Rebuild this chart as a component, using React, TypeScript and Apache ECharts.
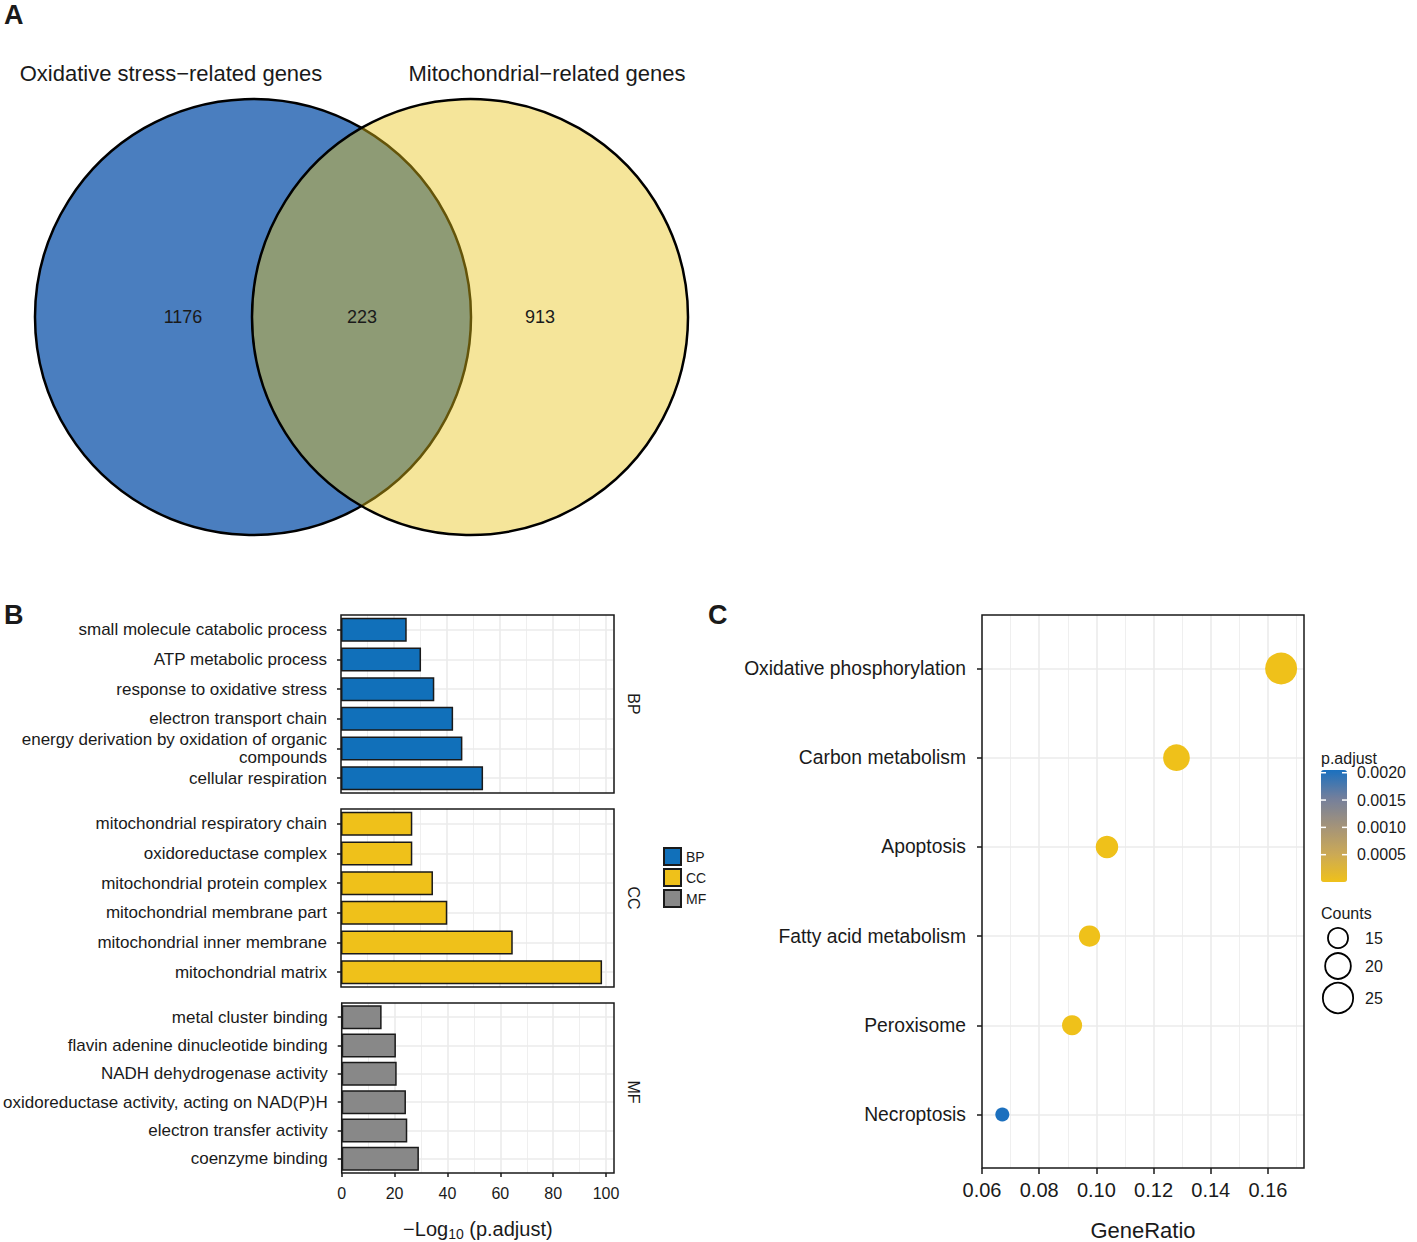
import React, { useEffect, useRef } from "react";
import * as echarts from "echarts";

// ---------- DATA ----------
const vennSetNames = ["Oxidative stress\u2212related genes", "Mitochondrial\u2212related genes"];
const vennCounts = [1176, 223, 913]; // left only, shared, right only

const ontologies = ["BP", "CC", "MF"];
const bpTerms = [
  "small molecule catabolic process",
  "ATP metabolic process",
  "response to oxidative stress",
  "electron transport chain",
  "energy derivation by oxidation of organic\ncompounds",
  "cellular respiration",
];
const bpValues = [24.8, 30.2, 35.2, 42.3, 45.8, 53.6];
const ccTerms = [
  "mitochondrial respiratory chain",
  "oxidoreductase complex",
  "mitochondrial protein complex",
  "mitochondrial membrane part",
  "mitochondrial inner membrane",
  "mitochondrial matrix",
];
const ccValues = [26.9, 26.9, 34.7, 40.1, 64.8, 98.5];
const mfTerms = [
  "metal cluster binding",
  "flavin adenine dinucleotide binding",
  "NADH dehydrogenase activity",
  "oxidoreductase activity, acting on NAD(P)H",
  "electron transfer activity",
  "coenzyme binding",
];
const mfValues = [15.1, 20.5, 20.8, 24.3, 24.8, 29.2];
const xTicksB = [0, 20, 40, 60, 80, 100];

const keggTerms = [
  "Oxidative phosphorylation",
  "Carbon metabolism",
  "Apoptosis",
  "Fatty acid metabolism",
  "Peroxisome",
  "Necroptosis",
];
const geneRatio = [0.1646, 0.128, 0.1037, 0.0976, 0.0915, 0.0671];
const keggCounts = [27, 21, 17, 16, 15, 11];
const pAdjust = [1.2e-12, 3.5e-9, 2.1e-6, 1.4e-6, 4.0e-6, 0.00204];
const xTicksC = [0.06, 0.08, 0.1, 0.12, 0.14, 0.16];
const pAdjustTicks = [0.0005, 0.001, 0.0015, 0.002];
const countTicks = [15, 20, 25];

// ---------- STYLE ----------
const FONT = "'Liberation Sans', Arial, Helvetica, sans-serif";
const INK = "#1a1a1a";
const GRID = "#EBEBEB";
const ontologyColors = ["#1170BA", "#EFC11A", "#888888"];
const pColorStops = ["#EFC11A", "#CBA956", "#A3937A", "#737F9C", "#1A70BF"];

const B_MIN = 0;
const B_MAX = 103;
const C_MIN = 0.06;
const C_MAX = 0.1726;
const P_MIN = 0;
const P_MAX = 0.00205;
const CBAR = { left: 1321, top: 770, w: 26, h: 112 };

// symbol size (diameter, px) scaled by area between the smallest and largest count
const sizeFor = (c: number) => {
  const cMin = Math.min(...keggCounts);
  const cMax = Math.max(...keggCounts);
  const dMin = 14;
  const dMax = 32;
  const a = dMin * dMin + ((c - cMin) / (cMax - cMin)) * (dMax * dMax - dMin * dMin);
  return Math.sqrt(a);
};

const text = (x: number, y: number, t: string, fontSize: number, extra: any = {}) => ({
  type: "text",
  x,
  y,
  silent: true,
  z: 20,
  rotation: extra.rotation || 0,
  style: {
    text: t,
    fontSize,
    fontFamily: FONT,
    fontWeight: extra.fontWeight || "normal",
    fill: INK,
    align: extra.align || "left",
    verticalAlign: extra.verticalAlign || "middle",
  },
});

export default function App() {
  const ref = useRef<HTMLDivElement>(null);

  useEffect(() => {
    document.body.style.margin = "0";
    const chart = echarts.init(ref.current as HTMLDivElement, null, { renderer: "svg" });

    const termsB = [bpTerms, ccTerms, mfTerms];
    const valuesB = [bpValues, ccValues, mfValues];
    const gridTopsB = [615, 809, 1003];
    const border = {
      show: true,
      z: 10,
      backgroundColor: "transparent",
      borderColor: INK,
      borderWidth: 1.5,
    };

    const grids: any[] = gridTopsB.map((top) => ({ left: 341, top, width: 273, height: 178, ...border }));
    grids.push({ left: 982, top: 615, width: 322, height: 562, ...border });

    const xAxes: any[] = ontologies.map((_, i) => {
      const last = i === 2;
      return {
        gridIndex: i,
        type: "value",
        min: B_MIN,
        max: B_MAX,
        interval: 20,
        axisLine: { show: false, onZero: false },
        axisTick: last
          ? { show: true, length: 4, customValues: xTicksB, lineStyle: { color: INK, width: 1.5 } }
          : { show: false },
        axisLabel: last
          ? { show: true, customValues: xTicksB, fontSize: 16, color: INK, margin: 12, fontFamily: FONT }
          : { show: false },
        splitLine: { show: true, lineStyle: { color: GRID, width: 1.6 } },
        minorTick: { show: false, splitNumber: 2 },
        minorSplitLine: { show: true, lineStyle: { color: GRID, width: 0.8 } },
        name: last ? "{n|\u2212Log}{s|10}{n| (p.adjust)}" : "",
        nameLocation: "middle",
        nameGap: 44,
        nameTextStyle: {
          fontFamily: FONT,
          color: INK,
          rich: {
            n: { fontSize: 20, lineHeight: 24, verticalAlign: "middle", fontFamily: FONT, color: INK },
            s: { fontSize: 14, lineHeight: 14, verticalAlign: "bottom", fontFamily: FONT, color: INK },
          },
        },
      };
    });
    xAxes.push({
      gridIndex: 3,
      type: "value",
      min: C_MIN,
      max: C_MAX,
      interval: 0.02,
      axisLine: { show: false, onZero: false },
      axisTick: { show: true, length: 6, customValues: xTicksC, lineStyle: { color: INK, width: 1.5 } },
      axisLabel: {
        customValues: xTicksC,
        formatter: (v: number) => v.toFixed(2),
        fontSize: 20,
        color: INK,
        margin: 12,
        fontFamily: FONT,
      },
      splitLine: { show: true, lineStyle: { color: GRID, width: 1.6 } },
      minorTick: { show: false, splitNumber: 2 },
      minorSplitLine: { show: true, lineStyle: { color: GRID, width: 0.8 } },
      name: "GeneRatio",
      nameLocation: "middle",
      nameGap: 51,
      nameTextStyle: { fontSize: 22, color: INK, fontFamily: FONT },
    });

    const yAxes: any[] = ontologies.map((_, i) => ({
      gridIndex: i,
      type: "category",
      inverse: true,
      data: termsB[i],
      axisLine: { show: false, onZero: false },
      axisTick: { show: true, alignWithLabel: true, length: 4, lineStyle: { color: INK, width: 1.5 } },
      axisLabel: { fontSize: 17, color: INK, margin: 14, lineHeight: 18, fontFamily: FONT },
      splitLine: { show: false },
    }));
    const yIdx = keggTerms.map((_, i) => i);
    yAxes.push({
      gridIndex: 3,
      type: "value",
      inverse: true,
      min: -0.6,
      max: 5.6,
      axisLine: { show: false, onZero: false },
      axisTick: { show: true, length: 5, customValues: yIdx, lineStyle: { color: INK, width: 1.5 } },
      axisLabel: {
        customValues: yIdx,
        formatter: (v: number) => keggTerms[Math.round(v)] ?? "",
        fontSize: 19.3,
        color: INK,
        margin: 16,
        fontFamily: FONT,
      },
      splitLine: { show: false },
    });

    const series: any[] = ontologies.map((name, i) => ({
      name,
      type: "bar",
      xAxisIndex: i,
      yAxisIndex: i,
      data: valuesB[i],
      barWidth: 24,
      z: 3,
      itemStyle: { color: ontologyColors[i], borderColor: INK, borderWidth: 1.5 },
      emphasis: { disabled: true },
    }));
    series.push({
      name: "KEGG",
      type: "scatter",
      xAxisIndex: 3,
      yAxisIndex: 3,
      z: 3,
      data: keggTerms.map((_, i) => [geneRatio[i], i, keggCounts[i], pAdjust[i]]),
      encode: { x: 0, y: 1 },
      symbol: "circle",
      symbolSize: (val: number[]) => sizeFor(val[2]),
      itemStyle: { opacity: 1 },
      emphasis: { disabled: true },
    });
    // horizontal grid lines at category centres
    const rowLines = (axisIdx: number, n: number, x0: number, x1: number) => ({
      type: "lines",
      coordinateSystem: "cartesian2d",
      xAxisIndex: axisIdx,
      yAxisIndex: axisIdx,
      z: 1,
      silent: true,
      polyline: false,
      lineStyle: { color: GRID, width: 1.6, opacity: 1, curveness: 0 },
      data: Array.from({ length: n }, (_, k) => ({ coords: [[x0, k], [x1, k]] })),
    });
    ontologies.forEach((_, i) => series.push(rowLines(i, termsB[i].length, B_MIN, B_MAX)));
    series.push(rowLines(3, keggTerms.length, C_MIN, C_MAX));

    // ---------- graphic (Venn, labels, legends) ----------
    const vL = { cx: 253, cy: 317, r: 218 };
    const vR = { cx: 470, cy: 317, r: 218 };
    const pToY = (v: number) => CBAR.top + ((P_MAX - v) / (P_MAX - P_MIN)) * CBAR.h;
    const countY = [938, 966, 998];

    const elements: any[] = [
      {
        type: "circle",
        shape: vL,
        z: 1,
        silent: true,
        style: { fill: "#4A7EBF", stroke: "#000", lineWidth: 2.5 },
      },
      {
        type: "circle",
        shape: vR,
        z: 2,
        silent: true,
        style: { fill: "rgba(232,194,22,0.43)", stroke: "#000", lineWidth: 2.5 },
      },
      text(171, 73, vennSetNames[0], 22, { align: "center" }),
      text(547, 73, vennSetNames[1], 22, { align: "center" }),
      text(183, 317, String(vennCounts[0]), 18, { align: "center" }),
      text(362, 317, String(vennCounts[1]), 18, { align: "center" }),
      text(540, 317, String(vennCounts[2]), 18, { align: "center" }),
      text(4, 15, "A", 27, { fontWeight: "bold" }),
      text(4, 615, "B", 27, { fontWeight: "bold" }),
      text(708, 615, "C", 27, { fontWeight: "bold" }),
      // facet strip labels
      ...ontologies.map((o, i) =>
        text(633, gridTopsB[i] + 89, o, 16, { align: "center", rotation: -Math.PI / 2 })
      ),
      // colour bar legend
      text(1321, 758, "p.adjust", 16),
      ...pAdjustTicks.map((v) => text(1357, pToY(v), v.toFixed(4), 16)),
      ...pAdjustTicks.flatMap((v) => [
        {
          type: "line",
          z: 30,
          silent: true,
          shape: { x1: CBAR.left, y1: pToY(v), x2: CBAR.left + 5, y2: pToY(v) },
          style: { stroke: "#fff", lineWidth: 1.5 },
        },
        {
          type: "line",
          z: 30,
          silent: true,
          shape: { x1: CBAR.left + CBAR.w - 5, y1: pToY(v), x2: CBAR.left + CBAR.w, y2: pToY(v) },
          style: { stroke: "#fff", lineWidth: 1.5 },
        },
      ]),
      // size legend
      text(1321, 913, "Counts", 16),
      ...countTicks.flatMap((c, i) => [
        {
          type: "circle",
          z: 20,
          silent: true,
          shape: { cx: 1338, cy: countY[i], r: sizeFor(c) / 2 },
          style: { fill: "#fff", stroke: "#000", lineWidth: 1.8 },
        },
        text(1365, countY[i], String(c), 16),
      ]),
    ];

    const option: any = {
      animation: false,
      backgroundColor: "#fff",
      textStyle: { fontFamily: FONT },
      grid: grids,
      xAxis: xAxes,
      yAxis: yAxes,
      series,
      legend: {
        data: ontologies,
        orient: "vertical",
        left: 663,
        top: 847,
        itemWidth: 17,
        itemHeight: 17,
        itemGap: 2,
        icon: "rect",
        padding: 0,
        selectedMode: false,
        textStyle: { fontSize: 14, lineHeight: 16, color: INK, fontFamily: FONT },
      },
      visualMap: {
        type: "continuous",
        seriesIndex: 3,
        dimension: 3,
        min: P_MIN,
        max: P_MAX,
        left: CBAR.left,
        top: CBAR.top,
        itemWidth: CBAR.w,
        itemHeight: CBAR.h,
        padding: 0,
        calculable: false,
        hoverLink: false,
        inRange: { color: pColorStops },
      },
      graphic: { elements },
    };

    chart.setOption(option);
    return () => chart.dispose();
  }, []);

  return <div ref={ref} style={{ width: 1417, height: 1242 }} />;
}
